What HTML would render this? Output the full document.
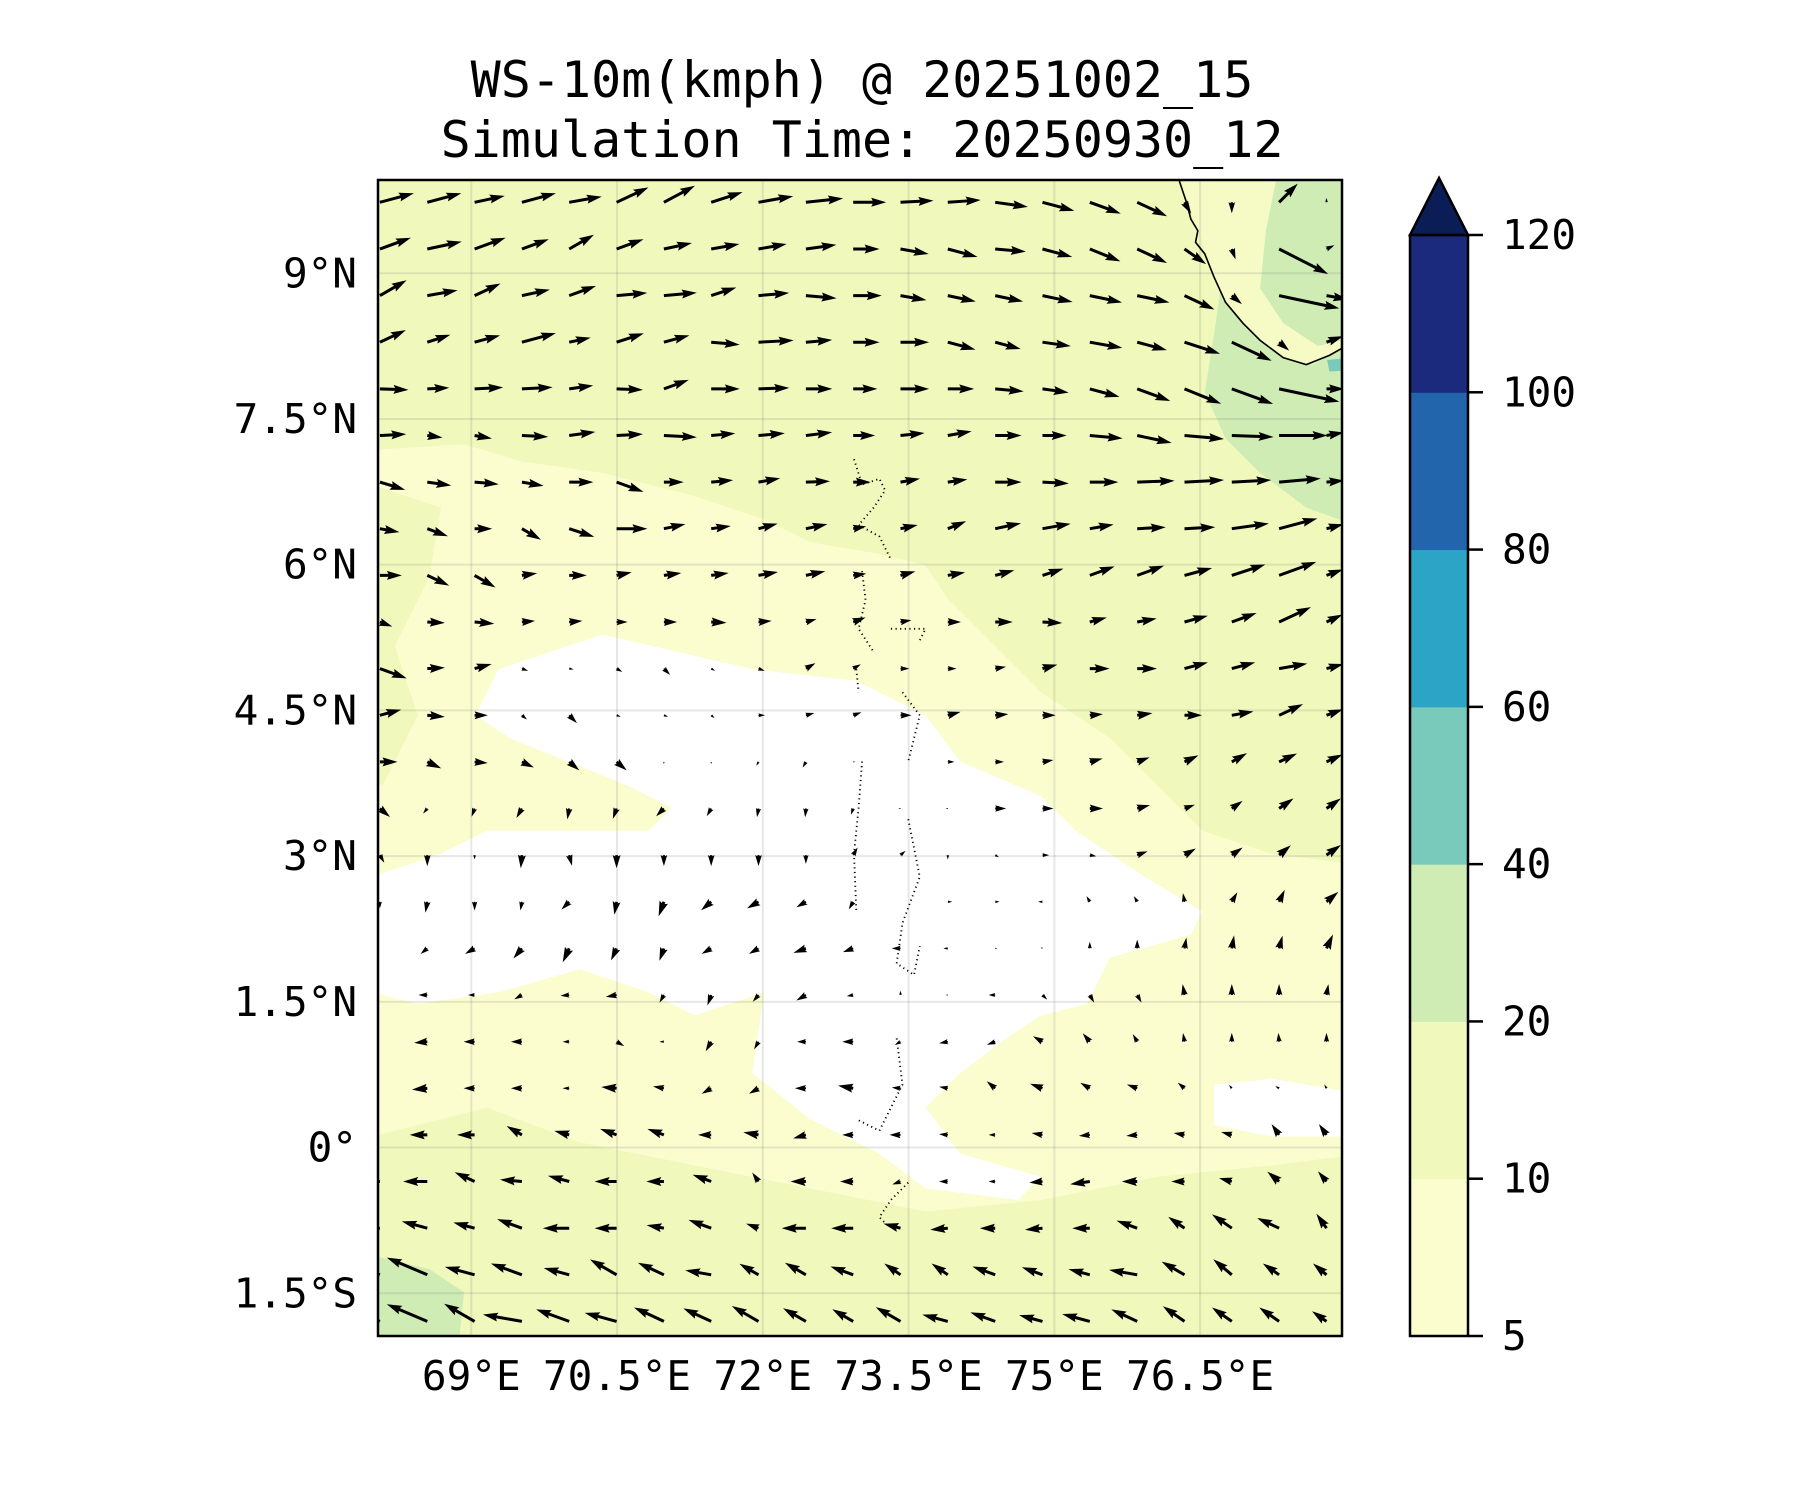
<!DOCTYPE html>
<html><head><meta charset="utf-8"><style>
html,body{margin:0;padding:0;background:#fff;}
svg{display:block;}
text{font-family:"DejaVu Sans Mono","Liberation Mono",monospace;fill:#000;}
</style></head><body>
<svg id="chart" width="1800" height="1500" viewBox="0 0 1800 1500" xmlns="http://www.w3.org/2000/svg">
<defs><clipPath id="plotclip"><rect x="378" y="180" width="964" height="1156"/></clipPath></defs>
<text x="862" y="97" font-size="50" text-anchor="middle">WS-10m(kmph) @ 20251002_15</text>
<text x="862" y="157" font-size="50" text-anchor="middle">Simulation Time: 20250930_12</text>
<g clip-path="url(#plotclip)">
 <g transform="translate(2.5,0) scale(1.1538)">
  <rect x="320" y="150" width="860" height="1020" fill="#fbfdcf"/>
  <path d="M320,150 L1180,150 L1180,750 L1100,740 L1040,720 L1000,680 L960,640 L900,600 L860,560 L820,520 L800,490 L760,480 L700,470 L660,450 L600,430 L520,410 L450,400 L400,385 L320,390 Z" fill="#f0f9bb"/>
  <path d="M320,420 L380,440 L370,500 L340,560 L360,620 L330,680 L320,680 Z" fill="#f0f9bb"/>
  <path d="M320,985 L420,960 L500,990 L600,1010 L700,1030 L800,1050 L900,1040 L1000,1020 L1100,1010 L1180,1000 L1180,1170 L320,1170 Z" fill="#f0f9bb"/>
  <path d="M320,1088 L370,1100 L400,1120 L395,1170 L320,1170 Z" fill="#d0ecb5"/>
  <path d="M1050,290 L1060,220 L1090,180 L1100,150 L1180,150 L1180,458 L1130,440 L1090,410 L1060,380 L1042,340 Z" fill="#d0ecb5"/>
  <path d="M1020,150 L1105,150 L1095,200 L1090,250 L1110,280 L1140,300 L1180,290 L1180,296 L1150,308 L1135,316 L1110,310 L1090,295 L1075,280 L1060,262 L1050,240 L1042,215 L1035,195 L1028,175 Z" fill="#f6fbc6"/>
  <path d="M1148,312 L1168,310 L1168,321 L1150,322 Z" fill="#7acabc"/>
  <path d="M430,580 L520,550 L650,580 L740,590 L800,620 L830,660 L900,690 L930,720 L990,760 L1040,790 L1030,810 L960,830 L940,870 L900,880 L870,900 L830,930 L800,960 L830,1000 L900,1020 L880,1040 L800,1030 L760,1000 L700,970 L650,930 L660,860 L600,880 L560,860 L500,840 L430,860 L360,870 L320,860 L320,760 L380,740 L420,720 L490,720 L560,720 L580,700 L540,680 L440,640 L410,620 Z" fill="#ffffff"/>
  <path d="M1050,940 L1100,935 L1160,945 L1160,985 L1100,985 L1050,975 Z" fill="#ffffff"/>
 </g>
 <g id="grid"></g>
 <g transform="translate(2.5,0) scale(1.1538)" fill="none" stroke="#000">
  <path d="M1020,157 L1026,175 L1030,190 L1036,200 L1034,210 L1042,220 L1050,240 L1060,262 L1075,280 L1090,295 L1110,310 L1130,316 L1140,312 L1150,308 L1168,298" stroke-width="1.4"/>
  <g stroke-width="1.6" stroke-dasharray="1,3">
   <path d="M738,398 L745,420 L760,415 L765,425 L755,440 L742,455 L760,465 L770,485"/>
   <path d="M745,495 L748,520 L742,545 L755,565 M770,545 L800,545 L795,555 M740,580 L742,600"/>
   <path d="M780,600 L795,620 L790,640 L785,660 M745,660 L742,700 L738,740 L740,790"/>
   <path d="M785,710 L795,760 L780,800 L775,835 L790,845 L795,820 M775,900 L780,940 L770,960 L760,980 L740,970"/>
   <path d="M785,1025 L770,1040 L760,1055 L765,1060"/>
  </g>
 </g>
 <g id="arrows"></g>
</g>
<rect x="378" y="180" width="964" height="1156" fill="none" stroke="#000" stroke-width="2.5"/>
<g id="axes"></g>
<g id="cbar"></g>
</svg>
<script>
const lonTicks=[69,70.5,72,73.5,75,76.5];
const lonLabels=["69°E","70.5°E","72°E","73.5°E","75°E","76.5°E"];
const latTicks=[9,7.5,6,4.5,3,1.5,0,-1.5];
const latLabels=["9°N","7.5°N","6°N","4.5°N","3°N","1.5°N","0°","1.5°S"];
const cbLevels=[5,10,20,40,60,80,100,120];
const cbColors=["#fbfdcf","#f0f9bb","#d0ecb5","#7acabc","#2ca4c5","#2265ac","#1c2a7d"];
const gridLons=[68.06,68.547,69.034,69.521,70.008,70.495,70.982,71.469,71.956,72.443,72.93,73.417,73.904,74.391,74.878,75.365,75.852,76.339,76.826,77.313,77.8];
const gridLats=[9.73,9.25,8.77,8.29,7.81,7.33,6.85,6.37,5.89,5.41,4.93,4.45,3.97,3.49,3.01,2.53,2.05,1.57,1.09,0.61,0.13,-0.35,-0.83,-1.31,-1.79];
const windDir=[
[15,15,12,15,10,25,28,18,10,6,0,3,4,-8,-15,-20,-25,-60,-90,45,90],
[20,12,20,20,30,20,12,10,10,8,0,-10,-15,-5,-15,-22,-25,-35,-70,-27,25],
[30,10,25,12,20,5,5,18,5,-5,0,-10,-12,-12,-12,-12,-12,-25,-40,-12,-10],
[25,18,15,15,12,18,15,-5,3,5,0,0,-15,-15,-8,-10,-15,-18,-25,-40,20],
[-2,3,3,3,8,-2,20,0,2,0,0,0,0,-5,-8,-15,-20,-22,-20,-12,0],
[3,-8,-10,-3,8,3,-3,5,5,7,0,6,10,0,0,-5,-12,-5,-2,0,10],
[-17,-8,-5,-10,0,-20,0,5,10,2,0,10,8,0,-3,0,2,3,3,5,5],
[-10,-20,0,-30,-18,0,12,8,15,12,10,12,22,12,10,10,3,3,8,15,15],
[0,-25,-30,8,0,12,8,8,10,12,8,15,10,15,18,20,20,15,18,20,20],
[-20,-3,-5,5,5,0,0,-3,5,15,20,10,0,0,-3,15,10,15,20,25,25],
[-20,3,15,-20,-10,-30,-45,-30,-20,30,30,0,0,10,15,0,0,15,15,10,15],
[15,-5,0,-40,-45,-20,-20,-40,0,15,20,0,15,5,0,5,8,0,10,25,20],
[0,-25,-5,-25,-40,-40,-90,-90,-120,-120,0,0,0,0,10,15,20,25,30,25,25],
[-40,-130,-110,-120,-100,-110,-135,-120,-100,-95,-110,180,180,0,0,0,15,20,35,35,35],
[-60,-90,-90,-95,-75,-90,-90,-90,-90,-90,60,40,-90,-30,0,-10,20,30,35,40,35],
[-90,-100,-90,-100,-135,-100,-110,-140,-150,-150,-120,0,0,0,180,120,120,100,60,65,40],
[0,-140,-150,-130,-115,-115,-110,-150,-150,-160,-160,180,180,0,150,90,90,80,80,75,65],
[0,180,180,-150,-175,-170,-120,-110,-130,-150,-170,90,180,180,-45,-60,-60,100,90,90,80],
[0,-175,180,180,180,-30,180,-120,-120,180,180,-150,-170,-160,150,130,120,100,90,95,90],
[0,-175,180,180,180,175,170,-150,-150,180,170,175,170,140,160,150,160,140,130,150,120],
[0,180,180,150,165,160,160,180,170,-165,180,180,175,180,170,-175,-175,170,165,125,125],
[180,180,155,175,165,180,180,160,125,180,180,-160,180,180,-175,-172,180,180,165,140,130],
[180,165,165,160,180,180,170,160,160,180,180,165,-175,180,-175,180,160,145,145,155,125],
[160,157,165,160,165,150,155,170,150,150,160,145,145,160,160,165,170,150,140,145,140],
[157,157,150,170,160,165,155,155,150,150,150,150,165,160,165,165,155,145,145,145,145]
];
const windSpd=[
[16,16,14,16,15,16,16,15,16,17,15,15,15,15,15,15,15,6,5,12,2],
[15,16,15,13,13,13,13,13,13,14,12,13,14,14,14,15,15,12,5,25,4],
[14,14,13,13,13,14,15,12,14,14,13,12,13,13,14,15,15,15,6,28,10],
[13,11,12,16,10,13,12,13,16,12,12,13,13,12,13,15,14,17,20,6,8],
[13,10,13,14,11,12,12,13,14,12,11,13,12,13,12,14,16,18,20,28,8],
[12,7,8,12,12,12,15,11,12,12,10,11,11,12,11,15,16,18,19,22,8],
[12,11,11,10,11,13,9,10,10,11,8,9,9,12,12,13,17,18,18,19,8],
[9,10,8,10,12,14,10,9,9,10,6,8,9,12,13,11,13,14,17,18,8],
[10,11,11,7,8,7,8,8,9,9,6,7,8,9,10,12,13,13,16,18,8],
[6,8,9,6,6,5,6,7,6,5,6,5,6,8,9,8,9,11,12,16,8],
[13,8,8,3,2,3,4,2,3,5,4,4,4,5,7,9,9,11,11,13,8],
[10,8,6,3,5,2,2,2,3,4,4,5,6,6,6,6,7,8,10,12,8],
[8,7,6,6,6,6,1,1,2,3,1,0,3,4,5,6,6,7,8,9,8],
[6,3,4,5,5,5,5,4,4,4,3,1,1,5,5,6,6,5,6,8,8],
[4,5,2,6,5,6,5,5,5,4,4,3,2,2,3,3,5,6,6,7,8],
[3,5,4,4,5,6,7,6,6,5,4,0,2,2,2,3,3,4,5,6,7],
[0,4,5,6,7,6,6,5,5,6,5,4,2,1,1,3,4,5,6,6,7],
[0,4,3,4,4,5,4,5,4,5,3,2,1,3,3,4,4,5,5,5,5],
[0,6,5,5,3,4,2,5,4,4,5,3,4,4,5,5,4,4,4,4,4],
[0,7,5,5,3,7,5,5,5,5,7,4,4,5,6,5,5,4,2,2,2],
[0,8,8,8,7,8,8,6,7,6,5,5,4,3,5,5,5,5,5,6,6],
[10,11,10,10,10,10,8,9,5,7,6,4,4,3,6,9,7,6,6,7,6],
[12,12,10,12,12,10,8,11,6,11,10,8,8,7,8,8,10,9,11,11,8],
[18,20,14,15,12,14,13,12,10,11,11,9,9,11,10,10,13,12,11,9,8],
[20,20,16,18,16,15,15,14,14,12,11,13,12,12,11,13,13,12,11,11,8]
];
const NS="http://www.w3.org/2000/svg";
const LON0=68.04,LON1=77.96,LAT0=-1.94,LAT1=9.96;
const PX0=378,PX1=1342,PY0=180,PY1=1336;
function X(lon){return PX0+(lon-LON0)/(LON1-LON0)*(PX1-PX0);}
function Y(lat){return PY0+(LAT1-lat)/(LAT1-LAT0)*(PY1-PY0);}
function mk(tag,attrs,parent){const e=document.createElementNS(NS,tag);for(const k in attrs)e.setAttribute(k,attrs[k]);parent.appendChild(e);return e;}
const grid=document.getElementById('grid');
lonTicks.forEach(function(lon){
 const l=mk('line',{x1:X(lon),x2:X(lon),y1:PY0,y2:PY1,stroke:'rgba(120,120,120,0.18)','stroke-width':2},grid);
 
 
});
latTicks.forEach(function(lat){
 const l=mk('line',{x1:PX0,x2:PX1,y1:Y(lat),y2:Y(lat),stroke:'rgba(120,120,120,0.18)','stroke-width':2},grid);
 
 
});
const axes=document.getElementById('axes');
lonTicks.forEach(function(lon,i){
 const t=mk('text',{x:X(lon),y:1390,'font-size':41,'text-anchor':'middle'},axes);
 t.textContent=lonLabels[i];
 
 
});
latTicks.forEach(function(lat,i){
 const t=mk('text',{x:357,y:Y(lat)+14,'font-size':41,'text-anchor':'end'},axes);
 t.textContent=latLabels[i];
 
 
});
const arrows=document.getElementById('arrows');
const SCALE=2.2;
for(let i=0;i<gridLats.length;i++){
 for(let j=0;j<gridLons.length;j++){
  const s=windSpd[i][j];if(!s)continue;
  const a=windDir[i][j];
  const L=s*SCALE;
  const k=Math.min(1,L/15);
  const hw=1.5*k,hl=15*k,hh=4.5*k,hal=13.5*k;
  const pts=[[0,-hw],[L-hal,-hw],[L-hl,-hh],[L,0],[L-hl,hh],[L-hal,hw],[0,hw]].map(p=>p[0].toFixed(2)+','+p[1].toFixed(2)).join(' ');
  const p=mk('polygon',{points:pts,fill:'#000',transform:'translate('+X(gridLons[j]).toFixed(1)+','+Y(gridLats[i]).toFixed(1)+') rotate('+(-a)+')'},arrows);
  
  
 }
}
const cb=document.getElementById('cbar');
const CBX=1410,CBW=58,CBTOP=235,CBBOT=1336;
const seg=(CBBOT-CBTOP)/(cbLevels.length-1);
function CY(k){return CBBOT-k*seg;}
for(let k=0;k<cbColors.length;k++){
 const r=mk('rect',{x:CBX,y:CY(k+1),width:CBW,height:seg+0.5,fill:cbColors[k]},cb);
 
 
}
const tri=mk('polygon',{points:CBX+','+CBTOP+' '+(CBX+CBW)+','+CBTOP+' '+(CBX+CBW/2)+',178',fill:'#0b1d57',stroke:'#000','stroke-width':2.5},cb);


const fr=mk('rect',{x:CBX,y:CBTOP,width:CBW,height:CBBOT-CBTOP,fill:'none',stroke:'#000','stroke-width':2.5},cb);


cbLevels.forEach(function(v,k){
 const tk=mk('line',{x1:CBX+CBW,x2:CBX+CBW+15,y1:CY(k),y2:CY(k),stroke:'#000','stroke-width':2.5},cb);
 
 
 const t=mk('text',{x:1502,y:CY(k)+14,'font-size':41},cb);
 t.textContent=String(v);
 
 
});
</script>
</body></html>
